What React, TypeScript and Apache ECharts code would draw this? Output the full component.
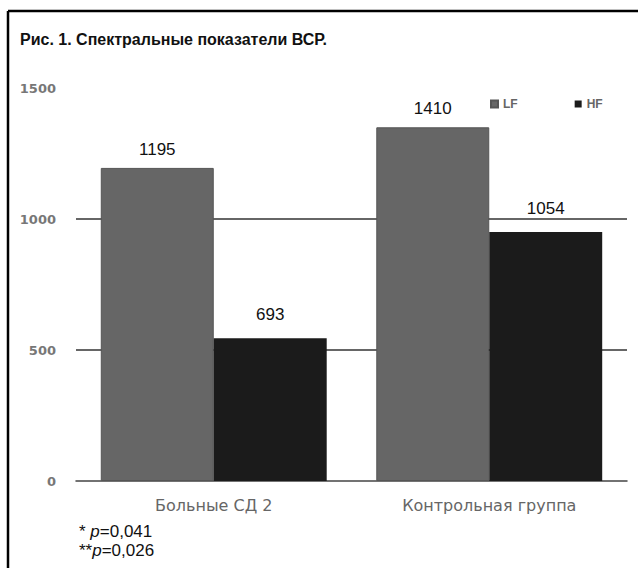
import React, { useEffect, useRef } from "react";
import * as echarts from "echarts";

const categories = ["Больные СД 2", "Контрольная группа"];
const seriesNames = ["LF", "HF"];
// bar heights as drawn in the picture
const lfValues = [1195, 1350];
const hfValues = [545, 950];
// value labels as printed above the bars
const lfLabels = ["1195", "1410"];
const hfLabels = ["693", "1054"];
const yTicks = [0, 500, 1000, 1500];
const titleText = "Рис. 1. Спектральные показатели ВСР.";
const footnotes = ["* p=0,041", "**p=0,026"];

export default function App() {
  const ref = useRef<HTMLDivElement>(null);
  useEffect(() => {
    if (!ref.current) return;
    const chart = echarts.init(ref.current, null, { renderer: "svg" });
    const labelStyle = {
      show: true,
      position: "top",
      color: "#111",
      fontSize: 17,
      fontFamily: "Liberation Sans, Arial, sans-serif",
    };
    const fn = (s: string) => {
      const i = s.indexOf("p");
      return `{n|${s.slice(0, i)}}{i|p}{n|${s.slice(i + 1)}}`;
    };
    chart.setOption({
      animation: false,
      backgroundColor: "#fff",
      grid: { left: 76, right: 11, top: 88, bottom: 87, containLabel: false },
      legend: {
        data: seriesNames,
        left: 485,
        top: 93,
        itemWidth: 7,
        itemHeight: 7,
        itemGap: 57,
        icon: "rect",
        textStyle: {
          color: "#666",
          fontSize: 12,
          fontWeight: "bold",
          fontFamily: "Liberation Sans, Arial, sans-serif",
        },
      },
      xAxis: {
        type: "category",
        data: categories,
        axisTick: { show: false },
        axisLine: { show: true, lineStyle: { color: "#444", width: 1.5 } },
        axisLabel: {
          margin: 16,
          color: "#666",
          fontSize: 16,
          fontFamily: "DejaVu Sans, sans-serif",
        },
      },
      yAxis: {
        type: "value",
        min: yTicks[0],
        max: yTicks[yTicks.length - 1],
        interval: yTicks[1] - yTicks[0],
        axisLine: { show: false },
        axisTick: { show: false },
        axisLabel: {
          margin: 20,
          color: "#777",
          fontSize: 13,
          fontWeight: "bold",
          fontFamily: "DejaVu Sans, sans-serif",
          formatter: (v: number) => String(v),
        },
        splitLine: {
          show: true,
          showMinLine: false,
          showMaxLine: false,
          lineStyle: { color: "#333", width: 1.5 },
        },
      },
      series: [
        {
          name: seriesNames[0],
          type: "bar",
          data: lfValues,
          barWidth: "41%",
          barGap: "0%",
          itemStyle: { color: "#666666", borderColor: "#555", borderWidth: 1 },
          label: { ...labelStyle, distance: 10, formatter: (p: any) => lfLabels[p.dataIndex] },
        },
        {
          name: seriesNames[1],
          type: "bar",
          data: hfValues,
          barWidth: "41%",
          barGap: "0%",
          itemStyle: { color: "#1b1b1b" },
          label: { ...labelStyle, distance: 15, formatter: (p: any) => hfLabels[p.dataIndex] },
        },
      ],
      graphic: [
        {
          type: "line",
          shape: { x1: 8, y1: 11, x2: 638, y2: 11 },
          style: { stroke: "#000", lineWidth: 2.5 },
        },
        {
          type: "line",
          shape: { x1: 8, y1: 11, x2: 8, y2: 568 },
          style: { stroke: "#000", lineWidth: 2.5 },
        },
        {
          type: "text",
          left: 20,
          top: 31,
          style: {
            text: titleText,
            fontSize: 16,
            fontWeight: "bold",
            fontFamily: "Liberation Sans, Arial, sans-serif",
            fill: "#111",
          },
        },
        {
          type: "text",
          left: 79,
          top: 523,
          style: {
            text: footnotes.map(fn).join("\n"),
            rich: {
              n: { fontSize: 17, fontFamily: "Liberation Sans, Arial, sans-serif", fill: "#111", lineHeight: 19 },
              i: { fontSize: 17, fontStyle: "italic", fontFamily: "Liberation Sans, Arial, sans-serif", fill: "#111", lineHeight: 19 },
            },
          },
        },
      ],
    });
    return () => chart.dispose();
  }, []);
  return (
    <div
      ref={ref}
      style={{ position: "absolute", left: 0, top: 0, width: 638, height: 568 }}
    />
  );
}
